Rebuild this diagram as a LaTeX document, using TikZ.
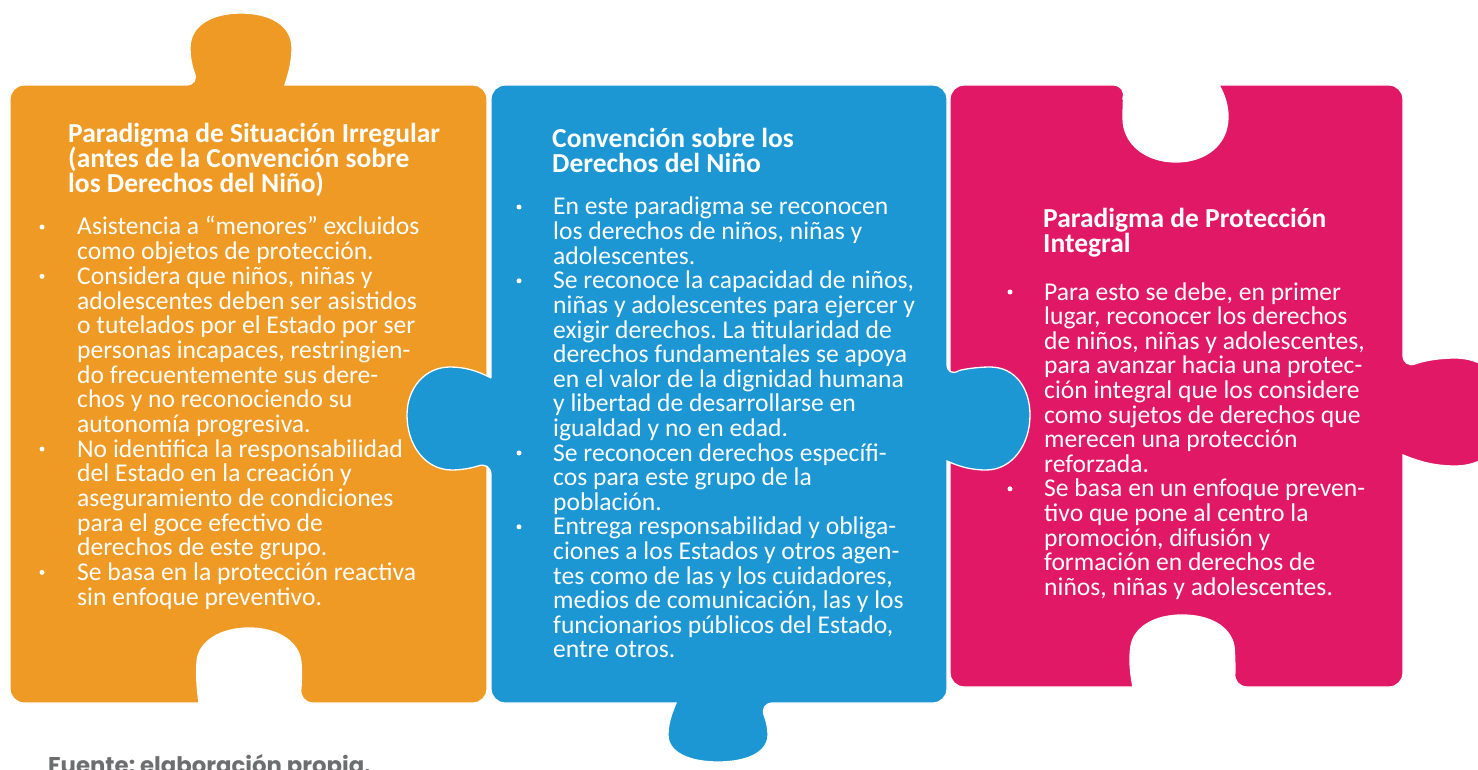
\documentclass[tikz,border=0pt]{standalone}
\usepackage{fontspec}
\setmainfont{Carlito}
\newfontfamily\footfont{Poppins}
\usepackage{xcolor}
\frenchspacing

\definecolor{naranja}{HTML}{EE9A25}
\definecolor{azul}{HTML}{1C97D3}
\definecolor{rosa}{HTML}{E01866}
\definecolor{gris}{HTML}{6D6E70}

\tikzset{
  pieza/.style={draw=white, line width=1.3pt},
  titulo/.style={anchor=base west, inner sep=0pt, text=white, font=\bfseries\fontsize{27.5}{27.5}\selectfont},
  linea/.style={anchor=base west, inner sep=0pt, text=white, font=\fontsize{25.6}{25.6}\selectfont}
}

\begin{document}
\begin{tikzpicture}[x={(1pt,0)}, y={(0,-1pt)}]
\useasboundingbox (0,0) rectangle (1478,770);

% orange piece
\filldraw[pieza, fill=naranja] (10,300) [rounded corners=14pt] -- (10,85) -- (200,85) [sharp corners]
  .. controls (194,72) and (190,62) .. (190,48)
  .. controls (190,25) and (212,13) .. (241,13)
  .. controls (270,13) and (292,25) .. (292,48)
  .. controls (292,62) and (289,72) .. (285,85)
  [rounded corners=14pt] -- (487,85) -- (487,703) -- (299,703) [sharp corners]
  .. controls (301,688) and (302,674) .. (301,662)
  .. controls (299,642) and (278,628) .. (249,628)
  .. controls (220,628) and (198,642) .. (197,662)
  .. controls (196,674) and (197,688) .. (199,703)
  [rounded corners=14pt] -- (10,703) -- cycle;

% pink piece
\filldraw[pieza, fill=rosa] (950,300) [rounded corners=14pt] -- (950,85) -- (1127,85) [sharp corners]
  .. controls (1124,95) and (1123,105) .. (1123,118)
  .. controls (1123,145) and (1147,162) .. (1176,162)
  .. controls (1205,162) and (1228,145) .. (1228,117)
  .. controls (1228,104) and (1224,94) .. (1219,85)
  [rounded corners=14pt] -- (1403,85) -- (1403,369) [sharp corners]
  .. controls (1420,362) and (1435,358) .. (1455,358)
  .. controls (1490,358) and (1510,385) .. (1510,412)
  .. controls (1510,440) and (1490,466) .. (1455,466)
  .. controls (1435,466) and (1420,462) .. (1403,455)
  [rounded corners=14pt] -- (1403,687) -- (1233,687) [sharp corners]
  .. controls (1235,672) and (1235,657) .. (1234,646)
  .. controls (1230,626) and (1209,615) .. (1182,615)
  .. controls (1155,615) and (1134,627) .. (1131,646)
  .. controls (1129,658) and (1130,672) .. (1133,687)
  [rounded corners=14pt] -- (950,687) -- cycle;

% blue piece
\filldraw[pieza, fill=azul] (491,378) [rounded corners=14pt] -- (491,85) -- (947,85) -- (947,378) [sharp corners]
  .. controls (960,370) and (975,367) .. (990,367)
  .. controls (1015,367) and (1030,388) .. (1030,415)
  .. controls (1030,445) and (1012,470) .. (986,470)
  .. controls (970,470) and (958,466) .. (947,461)
  [rounded corners=14pt] -- (947,703) -- (759,703) [sharp corners]
  .. controls (764,715) and (768,724) .. (768,735)
  .. controls (768,752) and (748,762) .. (718,762)
  .. controls (688,762) and (668,752) .. (668,735)
  .. controls (668,724) and (671,715) .. (676,703)
  [rounded corners=14pt] -- (491,703) -- (491,461) [sharp corners]
  .. controls (478,466) and (466,470) .. (452,470)
  .. controls (425,470) and (407,445) .. (407,415)
  .. controls (407,388) and (425,367) .. (450,367)
  .. controls (465,367) and (478,371) .. (491,378);

% titles
\foreach \txt [count=\i] in {{Paradigma de Situación Irregular}, {(antes de la Convención sobre}, {los Derechos del Niño)}}
  \node[titulo] (tna\i) at (68,{143+25*(\i-1)}) {\txt};
\foreach \txt [count=\i] in {{Convención sobre los}, {Derechos del Niño}}
  \node[titulo] (taz\i) at (552,{148+25*(\i-1)}) {\txt};
\foreach \txt [count=\i] in {{Paradigma de Protección}, {Integral}}
  \node[titulo] (tro\i) at (1043,{228+24*(\i-1)}) {\txt};

% orange list
\foreach \bul/\txt [count=\i] in {
  1/Asistencia a “menores” excluidos,
  0/como objetos de protección.,
  1/{Considera que niños, niñas y},
  0/adolescentes deben ser asistidos,
  0/o tutelados por el Estado por ser,
  0/{personas incapaces, restringien-},
  0/do frecuentemente sus dere-,
  0/chos y no reconociendo su,
  0/autonomía progresiva.,
  1/No identifica la responsabilidad,
  0/del Estado en la creación y,
  0/aseguramiento de condiciones,
  0/para el goce efectivo de,
  0/derechos de este grupo.,
  1/Se basa en la protección reactiva,
  0/sin enfoque preventivo.}{
  \node[linea] (na\i) at (77,{235+24.67*(\i-1)}) {\txt};
  \ifnum\bul=1 \fill[white] (42,{227+24.67*(\i-1)}) circle (2.5pt); \fi
}

% blue list
\foreach \bul/\txt [count=\i] in {
  1/En este paradigma se reconocen,
  0/{los derechos de niños, niñas y},
  0/adolescentes.,
  1/{Se reconoce la capacidad de niños,},
  0/niñas y adolescentes para ejercer y,
  0/exigir derechos. La titularidad de,
  0/derechos fundamentales se apoya,
  0/en el valor de la dignidad humana,
  0/y libertad de desarrollarse en,
  0/igualdad y no en edad.,
  1/Se reconocen derechos específi-,
  0/cos para este grupo de la,
  0/población.,
  1/Entrega responsabilidad y obliga-,
  0/ciones a los Estados y otros agen-,
  0/{tes como de las y los cuidadores,},
  0/{medios de comunicación, las y los},
  0/{funcionarios públicos del Estado,},
  0/entre otros.}{
  \node[linea] (az\i) at (553,{215+24.6*(\i-1)}) {\txt};
  \ifnum\bul=1 \fill[white] (519,{207+24.6*(\i-1)}) circle (2.5pt); \fi
}

% pink list
\foreach \bul/\txt [count=\i] in {
  1/{Para esto se debe, en primer},
  0/{lugar, reconocer los derechos},
  0/{de niños, niñas y adolescentes,},
  0/para avanzar hacia una protec-,
  0/ción integral que los considere,
  0/como sujetos de derechos que,
  0/merecen una protección,
  0/reforzada.,
  1/Se basa en un enfoque preven-,
  0/tivo que pone al centro la,
  0/{promoción, difusión y},
  0/formación en derechos de,
  0/{niños, niñas y adolescentes.}}{
  \node[linea] (ro\i) at (1044,{300+24.6*(\i-1)}) {\txt};
  \ifnum\bul=1 \fill[white] (1010,{292+24.6*(\i-1)}) circle (2.5pt); \fi
}

\node[anchor=base west, inner sep=0pt, text=gris, font=\footfont\bfseries\fontsize{22.8}{22.8}\selectfont] (fuente) at (48,773) {Fuente: elaboración propia.};
\end{tikzpicture}
\end{document}
